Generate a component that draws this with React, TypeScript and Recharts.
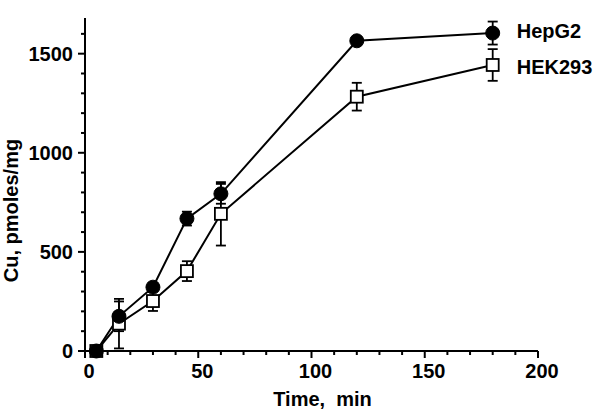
import React from 'react';
import {
  LineChart, Line, XAxis, YAxis, ErrorBar, LabelList, Label
} from 'recharts';

// time points (min)
const times = [5, 15, 30, 45, 60, 120, 180];

// Cu uptake, pmoles/mg
const hepg2 = [0, 175, 322, 668, 793, 1565, 1604];
const hepg2Err = [0, 75, 20, 35, 50, 15, 58];
const hek293 = [0, 138, 252, 403, 692, 1283, 1443];
const hek293Err = [0, 125, 50, 50, 160, 70, 80];

const xTicks = [0, 10, 20, 30, 40, 50, 60, 70, 80, 90, 100, 110, 120, 130, 140, 150, 160, 170, 180, 190, 200];
const yTicks = [0, 100, 200, 300, 400, 500, 600, 700, 800, 900, 1000, 1100, 1200, 1300, 1400, 1500, 1600];

const data = times.map((t, i) => ({
  t,
  hepg2: hepg2[i],
  hepg2Err: hepg2Err[i],
  hek293: hek293[i],
  hek293Err: hek293Err[i],
}));

const FONT = '"Liberation Sans", Arial, sans-serif';

const YTick = (props: any) => {
  const { x, y, payload } = props;
  const major = payload.value % 500 === 0;
  return (
    <g>
      <line x1={x - (major ? 7 : 4)} x2={x} y1={y} y2={y} stroke="#000" strokeWidth={2} />
      {major && (
        <text x={x - 12} y={y} dy={7} textAnchor="end" fontSize={20} fontWeight="bold" fontFamily={FONT} fill="#000">
          {payload.value}
        </text>
      )}
    </g>
  );
};

const XTick = (props: any) => {
  const { x, y, payload } = props;
  const major = payload.value % 50 === 0;
  return (
    <g>
      <line x1={x} x2={x} y1={y} y2={y + (major ? 7 : 4)} stroke="#000" strokeWidth={2} />
      {major && (
        <text x={x + 4} y={y + 27} textAnchor="middle" fontSize={20} fontWeight="bold" fontFamily={FONT} fill="#000">
          {payload.value}
        </text>
      )}
    </g>
  );
};

const CircleDot = (props: any) => {
  const { cx, cy } = props;
  return <circle cx={cx} cy={cy} r={7} fill="#000" stroke="#000" />;
};

const SquareDot = (props: any) => {
  const { cx, cy } = props;
  return <rect x={cx - 6} y={cy - 6} width={12} height={12} fill="#fff" stroke="#000" strokeWidth={1.8} />;
};

const endLabel = (text: string, dy: number) => (props: any) => {
  const { x, y, index } = props;
  if (index !== times.length - 1) return null;
  return (
    <text x={x + 24} y={y + dy} fontSize={20} fontWeight="bold" fontFamily={FONT} fill="#000">
      {text}
    </text>
  );
};

const App: React.FC = () => {
  return (
    <div style={{ width: 600, height: 413, background: '#fff' }}>
      <style>{`body{margin:0}`}</style>
      <LineChart width={600} height={413} data={data} margin={{ top: 18, right: 62, bottom: 0, left: 0 }}>
        <XAxis
          dataKey="t"
          type="number"
          domain={[0, 200]}
          ticks={xTicks}
          interval={0}
          height={62}
          tickSize={0}
          tickMargin={0}
          tickLine={false}
          axisLine={{ stroke: '#000', strokeWidth: 2 }}
          tick={<XTick />}
        >
          <Label
            content={({ viewBox }: any) => (
              <text
                x={viewBox.x + viewBox.width / 2 + 11}
                y={viewBox.y + 55}
                textAnchor="middle"
                fontSize={20}
                fontWeight="bold"
                fontFamily={FONT}
                fill="#000"
                style={{ whiteSpace: 'pre' }}
              >
                {'Time,  min'}
              </text>
            )}
          />
        </XAxis>
        <YAxis
          type="number"
          domain={[0, 1680]}
          ticks={yTicks}
          interval={0}
          width={85}
          tickSize={0}
          tickMargin={0}
          tickLine={false}
          axisLine={{ stroke: '#000', strokeWidth: 2 }}
          tick={<YTick />}
        >
          <Label
            content={({ viewBox }: any) => {
              const cx = viewBox.x + 18;
              const cy = viewBox.y + viewBox.height / 2 + 26;
              return (
                <text
                  x={cx}
                  y={cy}
                  transform={`rotate(-90, ${cx}, ${cy})`}
                  textAnchor="middle"
                  fontSize={20}
                  fontWeight="bold"
                  fontFamily={FONT}
                  fill="#000"
                >
                  Cu, pmoles/mg
                </text>
              );
            }}
          />
        </YAxis>
        <Line
          dataKey="hek293"
          stroke="#000"
          strokeWidth={2}
          dot={<SquareDot />}
          isAnimationActive={false}
        >
          <ErrorBar dataKey="hek293Err" direction="y" width={5} stroke="#000" strokeWidth={1.8} />
          <LabelList dataKey="hek293" content={endLabel('HEK293', 9)} />
        </Line>
        <Line
          dataKey="hepg2"
          stroke="#000"
          strokeWidth={2}
          dot={<CircleDot />}
          isAnimationActive={false}
        >
          <ErrorBar dataKey="hepg2Err" direction="y" width={5} stroke="#000" strokeWidth={1.8} />
          <LabelList dataKey="hepg2" content={endLabel('HepG2', 5)} />
        </Line>
      </LineChart>
    </div>
  );
};

export default App;
